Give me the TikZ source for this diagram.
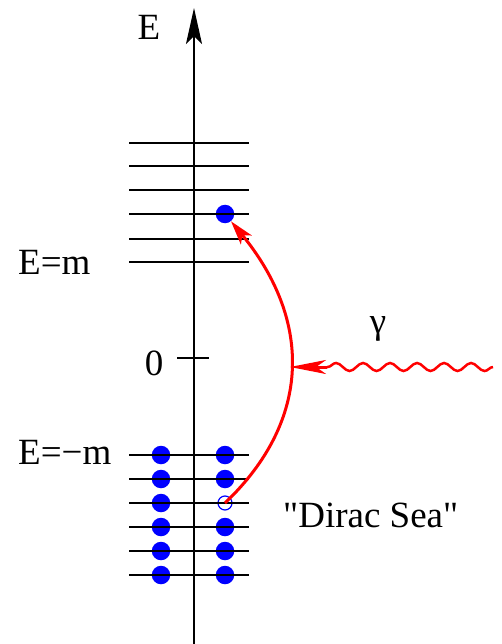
\documentclass[tikz,border=0pt]{standalone}
\usepackage{fontspec}
\setmainfont{Liberation Serif}[Ligatures=TeXOff]
\usetikzlibrary{arrows.meta,decorations.pathmorphing}
\begin{document}
\begin{tikzpicture}[x=1pt,y=-1pt,
  level/.style={line width=1.8pt, black},
  dot/.style={circle, fill=blue, inner sep=0pt, minimum size=18.5pt},
  hole/.style={circle, draw=blue, line width=1.2pt, inner sep=0pt, minimum size=14pt},
  lbl/.style={font=\fontsize{37}{40}\selectfont, inner sep=0pt},
  photon/.style={red, line width=3pt}]
\useasboundingbox (0,0) rectangle (501,644);
% axis
\coordinate (axb) at (194,644);
\coordinate (axt) at (194,8);
\draw[line width=2pt, -{Stealth[length=36pt,width=16pt,inset=8pt]}] (axb) -- (axt);
\node[lbl] (E) at (149,27) {E};
% zero tick
\coordinate (z1) at (177,358);
\coordinate (z2) at (209,358);
\draw[level] (z1) -- (z2);
\node[lbl] (zero) at (154,363) {0};
% dots
\foreach \y [count=\i] in {455,479,503,527,551,575}{
  \node[dot] (l\i) at (161,\y) {};
}
\foreach \y [count=\i] in {455,479}{
  \node[dot] (r\i) at (225,\y) {};
}
\node[hole] (hole) at (225,503) {};
\foreach \y [count=\i from 4] in {527,551,575}{
  \node[dot] (r\i) at (225,\y) {};
}
\node[dot] (top) at (225,214) {};
% levels
\foreach \y in {142.7,165.7,190,214,238.7,262,455,479,503,527,551,575}{
  \draw[level] (129,\y) -- (249,\y);
}
% labels
\node[lbl, anchor=west] (Em) at (18,262) {E=m};
\node[lbl, anchor=west] (Emm) at (18,452) {E=−m};
\node[lbl] (gam) at (378,329) {γ};
\node[lbl, anchor=west] (sea) at (283,515) {"Dirac Sea"};
% excitation arc
\draw[photon, -{Stealth[length=24pt,width=14pt,inset=6pt]}] (hole.center) .. controls (312,420) and (312,320) .. (top);
% photon
\coordinate (ps) at (493,367);
\coordinate (pm) at (327,367);
\coordinate (pe) at (290,367);
\draw[photon, line width=2.5pt, decorate, decoration={snake,segment length=27pt,amplitude=4pt}] (ps) -- (pm);
\draw[photon, -{Stealth[length=36pt,width=14pt,inset=10pt]}] (pm) -- (pe);
\end{tikzpicture}
\end{document}
